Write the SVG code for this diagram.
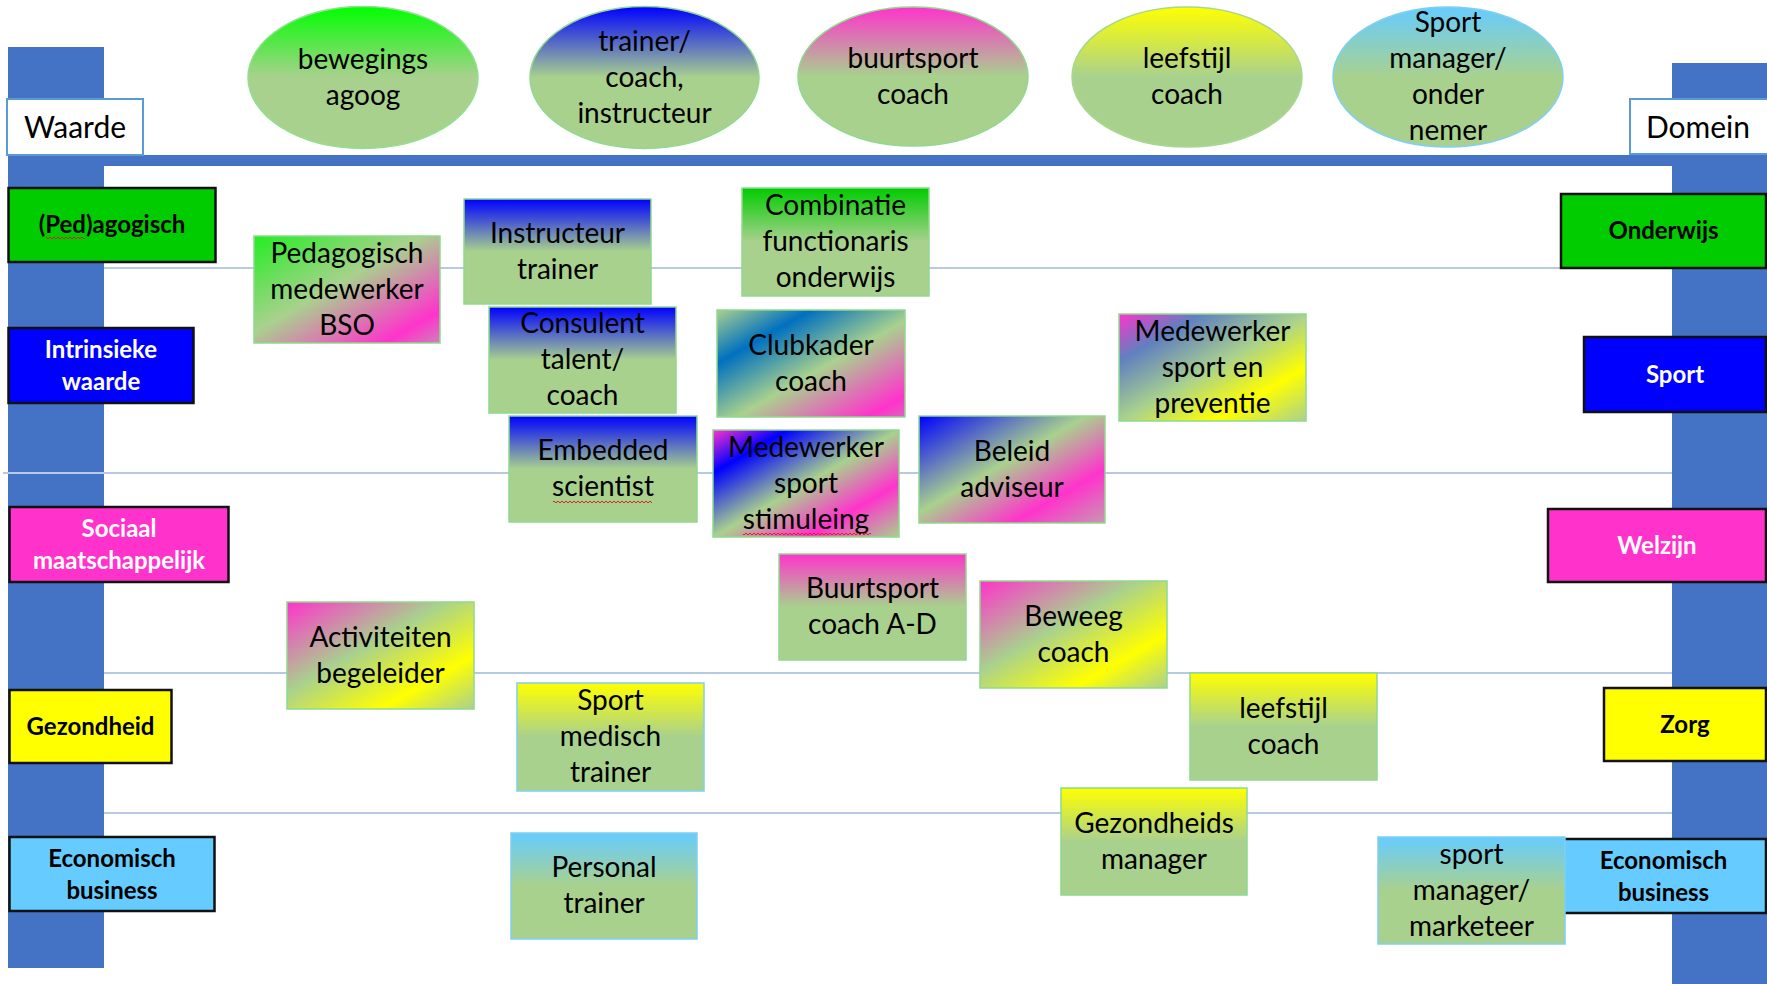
<svg xmlns="http://www.w3.org/2000/svg" width="1767" height="984" viewBox="0 0 1767 984">
<style>
.t{font-family:Lato,"Liberation Sans",sans-serif;font-size:28px;text-anchor:middle;fill:#000}
.b{font-family:Lato,"Liberation Sans",sans-serif;font-size:24px;font-weight:700;text-anchor:middle;fill:#000}
.wt{fill:#fff}
.lbl{stroke:#111;stroke-width:2.5}
.box{stroke:#8fd98f;stroke-width:1.5}
.boxb{stroke:#7fd0f0;stroke-width:1.5}
.bar{fill:#4472c4}
.hl{stroke:#b8c9e3;stroke-width:2}
.hd{fill:#fff;stroke:#5b9bd5;stroke-width:2}
</style>
<defs>
<linearGradient id="vG" x1="0" y1="0" x2="0" y2="1"><stop offset="0" stop-color="#00ff00"/><stop offset="0.5" stop-color="#a9d18e"/><stop offset="1" stop-color="#a9d18e"/></linearGradient>
<linearGradient id="vDG" x1="0" y1="0" x2="0" y2="1"><stop offset="0" stop-color="#00cc00"/><stop offset="0.5" stop-color="#a9d18e"/><stop offset="1" stop-color="#a9d18e"/></linearGradient>
<linearGradient id="vB" x1="0" y1="0" x2="0" y2="1"><stop offset="0" stop-color="#0000ff"/><stop offset="0.5" stop-color="#a9d18e"/><stop offset="1" stop-color="#a9d18e"/></linearGradient>
<linearGradient id="vP" x1="0" y1="0" x2="0" y2="1"><stop offset="0" stop-color="#ff33cc"/><stop offset="0.5" stop-color="#a9d18e"/><stop offset="1" stop-color="#a9d18e"/></linearGradient>
<linearGradient id="vY" x1="0" y1="0" x2="0" y2="1"><stop offset="0" stop-color="#ffff00"/><stop offset="0.5" stop-color="#a9d18e"/><stop offset="1" stop-color="#a9d18e"/></linearGradient>
<linearGradient id="vL" x1="0" y1="0" x2="0" y2="1"><stop offset="0" stop-color="#66ccff"/><stop offset="0.5" stop-color="#a9d18e"/><stop offset="1" stop-color="#a9d18e"/></linearGradient>
<linearGradient id="dBSO" x1="0" y1="0" x2="1" y2="1"><stop offset="0" stop-color="#22ee22"/><stop offset="0.45" stop-color="#a9d18e"/><stop offset="0.85" stop-color="#ff33cc"/><stop offset="1" stop-color="#d080b8"/></linearGradient>
<linearGradient id="dClub" x1="0" y1="0" x2="1" y2="1"><stop offset="0" stop-color="#a9d18e"/><stop offset="0.25" stop-color="#0070c0"/><stop offset="0.55" stop-color="#a9d18e"/><stop offset="0.9" stop-color="#ff33cc"/><stop offset="1" stop-color="#e060c0"/></linearGradient>
<linearGradient id="dPrev" x1="0" y1="0" x2="1" y2="1"><stop offset="0" stop-color="#ff33cc"/><stop offset="0.22" stop-color="#6080c0"/><stop offset="0.5" stop-color="#a9d18e"/><stop offset="0.75" stop-color="#ffff00"/><stop offset="1" stop-color="#a9d18e"/></linearGradient>
<linearGradient id="dStim" x1="0" y1="0" x2="1" y2="1"><stop offset="0" stop-color="#ff33cc"/><stop offset="0.2" stop-color="#0000ff"/><stop offset="0.5" stop-color="#a9d18e"/><stop offset="0.75" stop-color="#ff33cc"/><stop offset="1" stop-color="#a9d18e"/></linearGradient>
<linearGradient id="dBel" x1="0" y1="0" x2="1" y2="1"><stop offset="0" stop-color="#0000ff"/><stop offset="0.45" stop-color="#a9d18e"/><stop offset="0.75" stop-color="#ff33cc"/><stop offset="1" stop-color="#c898b0"/></linearGradient>
<linearGradient id="dPY" x1="0" y1="0" x2="1" y2="1"><stop offset="0" stop-color="#ff33cc"/><stop offset="0.42" stop-color="#a9d18e"/><stop offset="0.75" stop-color="#ffff00"/><stop offset="1" stop-color="#a9d18e"/></linearGradient>
<pattern id="wave" width="4" height="4" patternUnits="userSpaceOnUse"><path d="M0 3 L2 1 L4 3" stroke="#e02020" stroke-width="1" fill="none"/></pattern>
</defs>

<g id="grid">
<rect class="bar" x="8" y="47" width="96" height="921"/>
<rect class="bar" x="1672" y="63" width="95" height="921"/>
<line class="hl" x1="104" y1="268" x2="1672" y2="268"/>
<line class="hl" x1="3" y1="473" x2="1672" y2="473"/>
<line class="hl" x1="104" y1="673" x2="1672" y2="673"/>
<line class="hl" x1="104" y1="813" x2="1672" y2="813"/>
<rect class="bar" x="104" y="155" width="1568" height="11"/>
</g>

<g id="connectors"></g>

<g id="waarde"><rect class="hd" x="7" y="99" width="136" height="56"/><text class="t" style="font-size:30px" x="75" y="138">Waarde</text></g>
<g id="domein"><rect class="hd" x="1630" y="99" width="140" height="55"/><text class="t" style="font-size:30px" x="1698" y="138">Domein</text></g>

<g id="ell-bewegings"><ellipse cx="363" cy="77.5" rx="115" ry="71" fill="url(#vG)" stroke="#8fe08f" stroke-width="1.5"/><text class="t" x="363" y="68.5">bewegings</text><text class="t" x="363" y="104.5">agoog</text></g>
<g id="ell-trainer"><ellipse cx="644.5" cy="77.5" rx="114.5" ry="71" fill="url(#vB)" stroke="#8fd98f" stroke-width="1.5"/><text class="t" x="644.5" y="50.5">trainer/</text><text class="t" x="644.5" y="86.5">coach,</text><text class="t" x="644.5" y="122.5">instructeur</text></g>
<g id="ell-buurtsport"><ellipse cx="913" cy="76.5" rx="115" ry="69.5" fill="url(#vP)" stroke="#8fd98f" stroke-width="1.5"/><text class="t" x="913" y="67.5">buurtsport</text><text class="t" x="913" y="103.5">coach</text></g>
<g id="ell-leefstijl"><ellipse cx="1187" cy="77" rx="115" ry="70" fill="url(#vY)" stroke="#a8d88f" stroke-width="1.5"/><text class="t" x="1187" y="68">leefstijl</text><text class="t" x="1187" y="104">coach</text></g>
<g id="ell-sportmanager"><ellipse cx="1448" cy="77" rx="115" ry="70" fill="url(#vL)" stroke="#7fd0f0" stroke-width="1.5"/><text class="t" x="1448" y="32">Sport</text><text class="t" x="1448" y="68">manager/</text><text class="t" x="1448" y="104">onder</text><text class="t" x="1448" y="140">nemer</text></g>

<g id="lbl-pedagogisch"><rect class="lbl" x="8.5" y="188" width="207" height="74" fill="#00cc00"/><text class="b" x="112" y="233">(Ped)agogisch</text><rect x="46" y="236" width="39" height="4" fill="url(#wave)"/></g>
<g id="lbl-intrinsiek"><rect class="lbl" x="8.5" y="328" width="185" height="75" fill="#0000ff"/><text class="b wt" x="101" y="358">Intrinsieke</text><text class="b wt" x="101" y="390">waarde</text></g>
<g id="lbl-sociaal"><rect class="lbl" x="9.5" y="507" width="219" height="75" fill="#ff33cc"/><text class="b wt" x="119" y="537">Sociaal</text><text class="b wt" x="119" y="569">maatschappelijk</text></g>
<g id="lbl-gezondheid"><rect class="lbl" x="9.5" y="690" width="162" height="73" fill="#ffff00"/><text class="b" x="90.5" y="735">Gezondheid</text></g>
<g id="lbl-economisch-l"><rect class="lbl" x="9.5" y="837" width="205" height="74" fill="#66ccff"/><text class="b" x="112" y="867">Economisch</text><text class="b" x="112" y="899">business</text></g>

<g id="lbl-onderwijs"><rect class="lbl" x="1561" y="194" width="205" height="74" fill="#00cc00"/><text class="b" x="1663.5" y="239">Onderwijs</text></g>
<g id="lbl-sport"><rect class="lbl" x="1584" y="337" width="182" height="75" fill="#0000ff"/><text class="b wt" x="1675" y="383">Sport</text></g>
<g id="lbl-welzijn"><rect class="lbl" x="1548" y="509" width="218" height="73" fill="#ff33cc"/><text class="b wt" x="1657" y="554">Welzijn</text></g>
<g id="lbl-zorg"><rect class="lbl" x="1604" y="688" width="162" height="73" fill="#ffff00"/><text class="b" x="1685" y="733">Zorg</text></g>
<g id="lbl-economisch-r"><rect class="lbl" x="1561" y="839" width="205" height="74" fill="#66ccff"/><text class="b" x="1663.5" y="869">Economisch</text><text class="b" x="1663.5" y="901">business</text></g>

<g id="n-bso"><rect class="box" x="254" y="236" width="186" height="107" fill="url(#dBSO)"/><text class="t" x="347" y="262.5">Pedagogisch</text><text class="t" x="347" y="298.5">medewerker</text><text class="t" x="347" y="334.5">BSO</text></g>
<g id="n-instructeur"><rect class="box" x="464" y="199" width="187" height="105" fill="url(#vB)"/><text class="t" x="557.5" y="242.5">Instructeur</text><text class="t" x="557.5" y="278.5">trainer</text></g>
<g id="n-combinatie"><rect class="box" x="742" y="188" width="187" height="108" fill="url(#vDG)"/><text class="t" x="835.5" y="215">Combinatie</text><text class="t" x="835.5" y="251">functionaris</text><text class="t" x="835.5" y="287">onderwijs</text></g>
<g id="n-consulent"><rect class="box" x="489" y="307" width="187" height="106" fill="url(#vB)"/><text class="t" x="582.5" y="333">Consulent</text><text class="t" x="582.5" y="369">talent/</text><text class="t" x="582.5" y="405">coach</text></g>
<g id="n-clubkader"><rect class="box" x="717" y="310" width="188" height="107" fill="url(#dClub)"/><text class="t" x="811" y="354.5">Clubkader</text><text class="t" x="811" y="390.5">coach</text></g>
<g id="n-preventie"><rect class="box" x="1119" y="314" width="187" height="107" fill="url(#dPrev)"/><text class="t" x="1212.5" y="340.5">Medewerker</text><text class="t" x="1212.5" y="376.5">sport en</text><text class="t" x="1212.5" y="412.5">preventie</text></g>
<g id="n-embedded"><rect class="box" x="509" y="416" width="188" height="106" fill="url(#vB)"/><text class="t" x="603" y="460">Embedded</text><text class="t" x="603" y="496">scientist</text><rect x="553" y="500" width="99" height="4" fill="url(#wave)"/></g>
<g id="n-stimuleing"><rect class="box" x="713" y="430" width="186" height="107" fill="url(#dStim)"/><text class="t" x="806" y="456.5">Medewerker</text><text class="t" x="806" y="492.5">sport</text><text class="t" x="806" y="528.5">stimuleing</text><rect x="743" y="532" width="128" height="4" fill="url(#wave)"/></g>
<g id="n-beleid"><rect class="box" x="919" y="416" width="186" height="107" fill="url(#dBel)"/><text class="t" x="1012" y="460.5">Beleid</text><text class="t" x="1012" y="496.5">adviseur</text></g>
<g id="n-buurtsport-ad"><rect class="box" x="779" y="554" width="187" height="106" fill="url(#vP)"/><text class="t" x="872.5" y="598">Buurtsport</text><text class="t" x="872.5" y="634">coach A-D</text></g>
<g id="n-beweeg"><rect class="box" x="980" y="581" width="187" height="107" fill="url(#dPY)"/><text class="t" x="1073.5" y="625.5">Beweeg</text><text class="t" x="1073.5" y="661.5">coach</text></g>
<g id="n-activiteiten"><rect class="box" x="287" y="602" width="187" height="107" fill="url(#dPY)"/><text class="t" x="380.5" y="646.5">Activiteiten</text><text class="t" x="380.5" y="682.5">begeleider</text></g>
<g id="n-sportmedisch"><rect class="boxb" x="517" y="683" width="187" height="108" fill="url(#vY)"/><text class="t" x="610.5" y="710">Sport</text><text class="t" x="610.5" y="746">medisch</text><text class="t" x="610.5" y="782">trainer</text></g>
<g id="n-leefstijl"><rect class="box" x="1190" y="673" width="187" height="107" fill="url(#vY)"/><text class="t" x="1283.5" y="717.5">leefstijl</text><text class="t" x="1283.5" y="753.5">coach</text></g>
<g id="n-gezondheidsmanager"><rect class="box" x="1061" y="788" width="186" height="107" fill="url(#vY)"/><text class="t" x="1154" y="832.5">Gezondheids</text><text class="t" x="1154" y="868.5">manager</text></g>
<g id="n-personal"><rect class="boxb" x="511" y="833" width="186" height="106" fill="url(#vL)"/><text class="t" x="604" y="877">Personal</text><text class="t" x="604" y="913">trainer</text></g>
<g id="n-sportmarketeer"><rect class="boxb" x="1378" y="837" width="187" height="107" fill="url(#vL)"/><text class="t" x="1471.5" y="863.5">sport</text><text class="t" x="1471.5" y="899.5">manager/</text><text class="t" x="1471.5" y="935.5">marketeer</text></g>
</svg>
